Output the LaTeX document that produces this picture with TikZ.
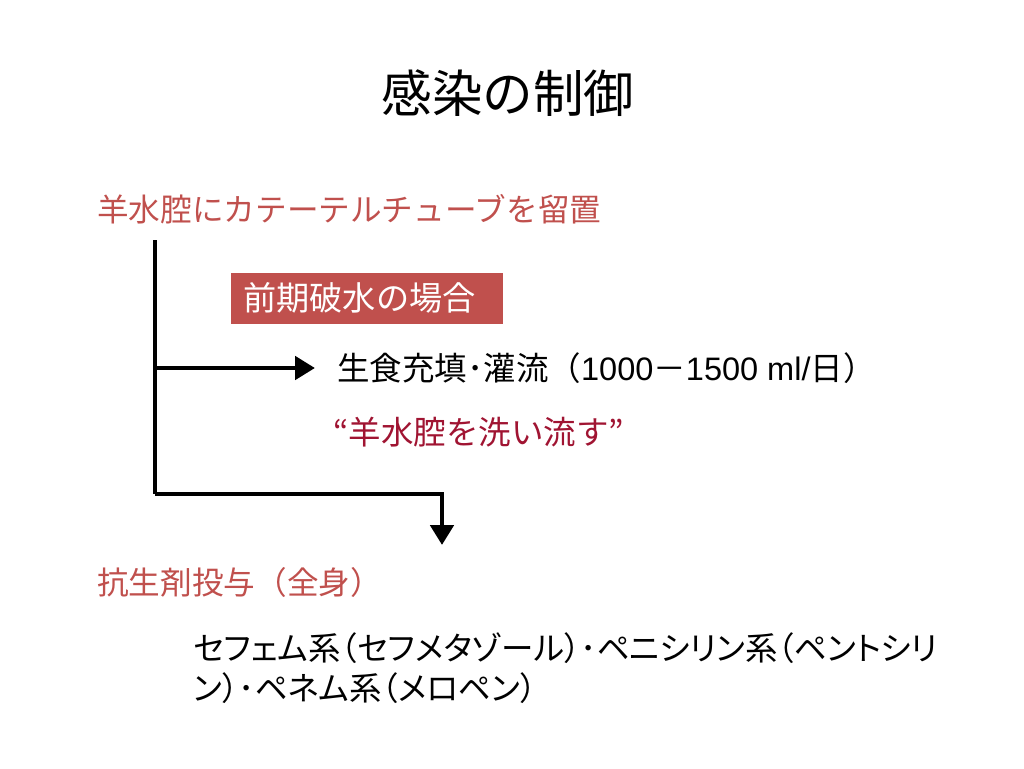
\documentclass[tikz,border=0pt]{standalone}
\usepackage{fontspec}
\setmainfont{Noto Sans CJK JP}
\newfontfamily\pjfont{Noto Sans CJK JP}[RawFeature=+palt]
\newfontfamily\latinfont{Liberation Sans}
\usepackage{tikz}
\usetikzlibrary{arrows.meta,positioning}
\definecolor{headred}{RGB}{192,80,77}
\definecolor{washred}{RGB}{160,20,50}
\begin{document}
\begin{tikzpicture}[
x=0.02cm, y=-0.02cm,
heading/.style={anchor=west, inner sep=0pt, text=headred, font=\fontsize{18}{22}\selectfont},
bodytext/.style={anchor=west, inner sep=0pt, font=\fontsize{18.5}{22}\selectfont},
casebox/.style={anchor=west, fill=headred, text=white, inner xsep=0.24cm, text width=4.96cm, minimum height=1.02cm, align=left, font=\fontsize{18.9}{22}\selectfont},
trunk/.style={line width=2.8pt},
flow/.style={line width=2.8pt, -{Triangle[length=0.4cm,width=0.46cm]}}
]
\useasboundingbox (0,0) rectangle (1024,768);
\node[font=\fontsize{28.8}{32}\selectfont] (title) at (508,93) {感染の制御};
\node[heading] (catheter) at (97,209) {羊水腔にカテーテルチューブを留置};
\node[casebox] (prom) at (231,298) {前期破水の場合};
\node[bodytext] (saline) at (337,368) {生食充填･灌流（{\latinfont 1000}－{\latinfont 1500 ml/}日）};
\node[bodytext, text=washred] (wash) at (333,432) {“羊水腔を洗い流す”};
\node[heading] (abx) at (97,582) {抗生剤投与（全身）};
\node[bodytext, font=\pjfont\fontsize{18.5}{22.7}\selectfont, align=left] (drugs) at (193,668)
  {セフェム系（セフメタゾール）･ペニシリン系（ペントシリ\\ン）･ペネム系（メロペン）};
% trunk line and branches
\coordinate (top) at (155,240);
\coordinate (bend) at (155,494);
\coordinate (drop) at (442,545);
\draw[trunk] (top) -- (bend);
\draw[flow, shorten >=0.44cm] (top |- saline) -- (saline.west);
\draw[flow] (bend) -| (drop);
\end{tikzpicture}
\end{document}
